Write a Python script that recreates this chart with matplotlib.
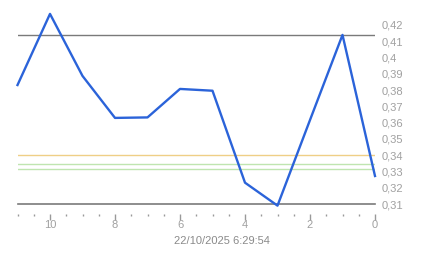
import numpy as np
import matplotlib.pyplot as plt
from matplotlib.ticker import FixedLocator, MultipleLocator

plt.rcParams["font.family"] = ["Liberation Sans", "DejaVu Sans"]

# data (x counts down from 11 to 0)
x_vals = [11, 10, 9, 8, 7, 6, 5, 4, 3, 2, 1, 0]
y_vals = [0.3831, 0.4268, 0.3887, 0.3629, 0.3632, 0.3807, 0.3796,
          0.3231, 0.3090, 0.3616, 0.4139, 0.3272]

ref_line = 0.4139
base_line = 0.31
orange_line = 0.3400
green_lines = [0.3344, 0.3313]

y_ticks = [0.31, 0.32, 0.33, 0.34, 0.35, 0.36, 0.37, 0.38, 0.39, 0.40, 0.41, 0.42]
y_labels = ["0,31", "0,32", "0,33", "0,34", "0,35", "0,36", "0,37", "0,38",
            "0,39", "0,4", "0,41", "0,42"]
x_ticks = [10, 8, 6, 4, 2, 0]
x_title = "22/10/2025 6:29:54"

fig = plt.figure(figsize=(4.43, 2.58), dpi=100)
ax = fig.add_axes([17.5 / 443, 1 - 204 / 258, (375 - 17.5) / 443, 194 / 258])

ax.axhline(ref_line, color="#7a7a7a", lw=1.0, zorder=1)
ax.axhline(base_line, color="#7a7a7a", lw=1.2, zorder=1, clip_on=False)
ax.axhline(orange_line, color="#efcf86", lw=1.0, zorder=1)
for g in green_lines:
    ax.axhline(g, color="#bfe5b0", lw=1.0, zorder=1)

ax.plot(x_vals, y_vals, color="#2b63d9", lw=1.7, zorder=3, clip_on=False)

ax.set_xlim(11, 0)
ax.set_ylim(0.31, 0.4292)

for s in ax.spines.values():
    s.set_visible(False)
ax.spines["bottom"].set_position(("outward", 7))

ax.xaxis.set_major_locator(FixedLocator(x_ticks))
ax.xaxis.set_minor_locator(MultipleLocator(0.5))
ax.tick_params(axis="x", which="major", length=4, width=1, color="#999999",
               labelcolor="#a0a0a0", labelsize=8, pad=0.5)
ax.tick_params(axis="x", which="minor", length=1.5, width=1, color="#999999")

ax.yaxis.tick_right()
ax.yaxis.set_major_locator(FixedLocator(y_ticks))
ax.set_yticklabels(y_labels)
ax.tick_params(axis="y", length=0, labelcolor="#a0a0a0", labelsize=8, pad=5)

fig.text(0.5, 1 - 241 / 258, x_title, ha="center", va="center",
         fontsize=8, color="#8a8a8a")

fig.savefig("out.png", dpi=100, facecolor="white")
